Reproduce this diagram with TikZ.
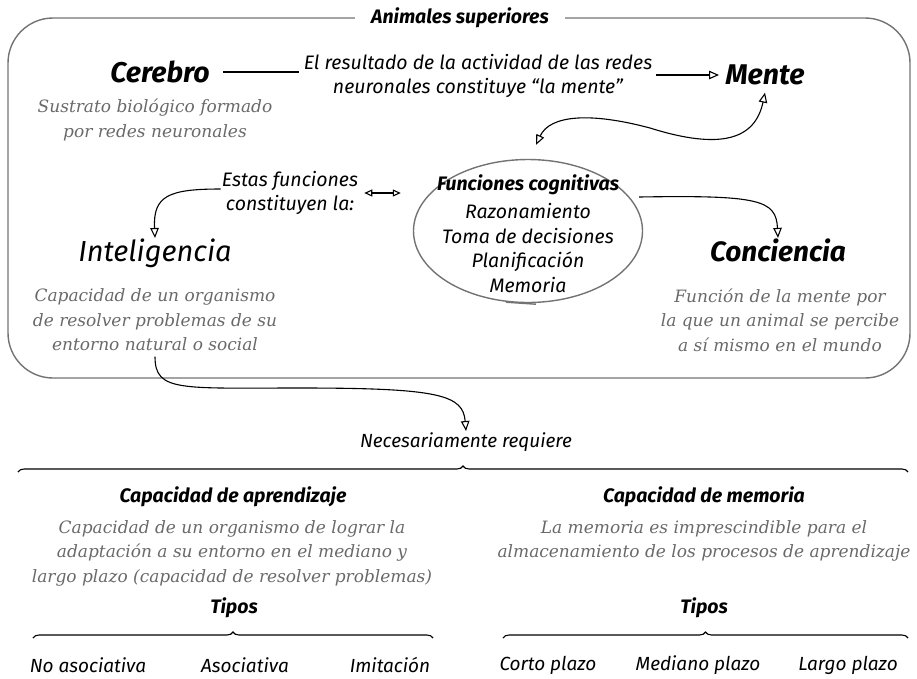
\documentclass[tikz,border=0pt]{standalone}
\usepackage{fontspec}
\usetikzlibrary{calc, positioning}
\usetikzlibrary{arrows.meta}
\usetikzlibrary{shapes.geometric}
\usetikzlibrary{decorations.pathreplacing}
\newfontfamily\handfont{Fira Sans}
\newfontfamily\descfont{DejaVu Serif}
\definecolor{framegray}{RGB}{115,115,115}
\definecolor{descgray}{RGB}{105,105,105}
\tikzset{
  bigword/.style={font=\handfont\itshape\bfseries\fontsize{28.5}{32}\selectfont},
  midword/.style={font=\handfont\itshape\fontsize{29}{32}\selectfont},
  headword/.style={font=\handfont\itshape\bfseries\fontsize{19.5}{22}\selectfont},
  handnote/.style={font=\handfont\itshape\fontsize{19.5}{24}\selectfont, align=center, inner sep=1pt},
  leafword/.style={font=\handfont\itshape\fontsize{19}{22}\selectfont},
  desctext/.style={font=\descfont\itshape\fontsize{17}{24.5}\selectfont, text=descgray, align=center},
  link/.style={line width=1.1pt, -{Triangle[open,length=10pt,width=8.5pt]}},
  duallink/.style={line width=1.1pt, {Triangle[open,length=10pt,width=8.5pt]}-{Triangle[open,length=10pt,width=8.5pt]}},
  smalldual/.style={line width=1.1pt, {Triangle[open,length=8pt,width=7pt]}-{Triangle[open,length=8pt,width=7pt]}},
  groupbrace/.style={line width=1.1pt, decorate, decoration={brace, amplitude=6pt}},
}
\begin{document}
\begin{tikzpicture}[x=1pt,y=-1pt]
\useasboundingbox (0,0) rectangle (917,678);

% upper frame
\draw[framegray, line width=1.4pt, rounded corners=45pt] (8,18) rectangle (910,378);
\node[headword, fill=white, inner xsep=16pt] (animales) at (460,18) {Animales superiores};

% cerebro and mente
\node[bigword] (cerebro) at (160,72) {Cerebro};
\node[desctext] (cerebrodesc) at (155,120) {Sustrato biológico formado\\por redes neuronales};
\node[handnote] (resultado) at (478,76) {El resultado de la actividad de las redes\\neuronales constituye “la mente”};
\node[bigword] (mente) at (765,75) {Mente};
\draw[line width=1.1pt, shorten <=10pt, shorten >=4pt] (cerebro.east) -- (resultado.west |- cerebro.east);
\draw[link, shorten <=3pt, shorten >=3pt] (resultado.east |- mente.west) -- (mente.west);

% funciones cognitivas
\node[ellipse, draw=framegray, line width=1.4pt, minimum width=229pt, minimum height=143pt, inner sep=0pt] (cognitivas) at (528,231) {};
\node[align=center, font=\handfont\itshape\fontsize{19.5}{24.7}\selectfont] (cogtext) at (528,234)
  {{\bfseries Funciones cognitivas}\\[3pt]Razonamiento\\Toma de decisiones\\Planificación\\Memoria};
\draw[framegray, line width=1.4pt] ([xshift=-22pt,yshift=1pt]cognitivas.south) -- ++(30,2);
\draw[duallink] ([xshift=8pt,yshift=14pt]cognitivas.north) .. controls (550,115) and (590,112) .. (650,128)
  .. controls (720,150) and (755,140) .. ([yshift=-4pt]mente.south);

% inteligencia
\node[handnote] (estas) at (290,193) {Estas funciones\\constituyen la:};
\node[midword] (inteligencia) at (155,253) {Inteligencia};
\node[desctext] (intdesc) at (155,320) {Capacidad de un organismo\\de resolver problemas de su\\entorno natural o social};
\draw[smalldual, shorten <=5pt, shorten >=12pt] (estas.east) -- (cognitivas.west |- estas.east);
\draw[link] ([yshift=4pt]estas.west) .. controls (168,189) and (153,196) .. ([yshift=-3pt]inteligencia.north);

% conciencia
\node[midword, font=\handfont\itshape\bfseries\fontsize{28}{32}\selectfont] (conciencia) at (778,250) {Conciencia};
\node[desctext] (concdesc) at (780,320) {Función de la mente por\\la que un animal se percibe\\a sí mismo en el mundo};
\draw[link] ([xshift=-4pt]cognitivas.east |- 0,197) .. controls (760,195) and (776,200) .. ([yshift=-3pt]conciencia.north);

% necesariamente requiere
\node[leafword] (requiere) at (466,442) {Necesariamente requiere};
\draw[link] ([yshift=-2pt]intdesc.south) .. controls (155,392) and (180,388) .. (300,388)
  .. controls (440,388) and (463,395) .. ([yshift=-2pt]requiere.north);
\coordinate (bigleft) at (18,472);
\coordinate (bigright) at (908,472);
\draw[groupbrace] (bigleft) -- (bigright);

% aprendizaje
\node[headword] (aprendizaje) at (233,497) {Capacidad de aprendizaje};
\node[desctext] (aprenddesc) at (232,553) {Capacidad de un organismo de lograr la\\adaptación a su entorno en el mediano y\\largo plazo (capacidad de resolver problemas)};
\node[headword] (tiposA) at (234,608) {Tipos};
\coordinate (leftA) at (33,638);
\coordinate (rightA) at (433,638);
\draw[groupbrace] (leftA) -- (rightA);
\node[leafword] (noasoc) at (88,665) {No asociativa};
\node[leafword] (asoc) at (245,665) {Asociativa};
\node[leafword] (imitacion) at (390,665) {Imitación};

% memoria
\node[headword] (memoria) at (704,497) {Capacidad de memoria};
\node[desctext] (memdesc) at (704,541) {La memoria es imprescindible para el\\almacenamiento de los procesos de aprendizaje};
\node[headword] (tiposB) at (704,608) {Tipos};
\coordinate (leftB) at (503,638);
\coordinate (rightB) at (908,638);
\draw[groupbrace] (leftB) -- (rightB);
\node[leafword] (corto) at (548,665) {Corto plazo};
\node[leafword] (mediano) at (698,665) {Mediano plazo};
\node[leafword] (largo) at (848,665) {Largo plazo};
\end{tikzpicture}
\end{document}
